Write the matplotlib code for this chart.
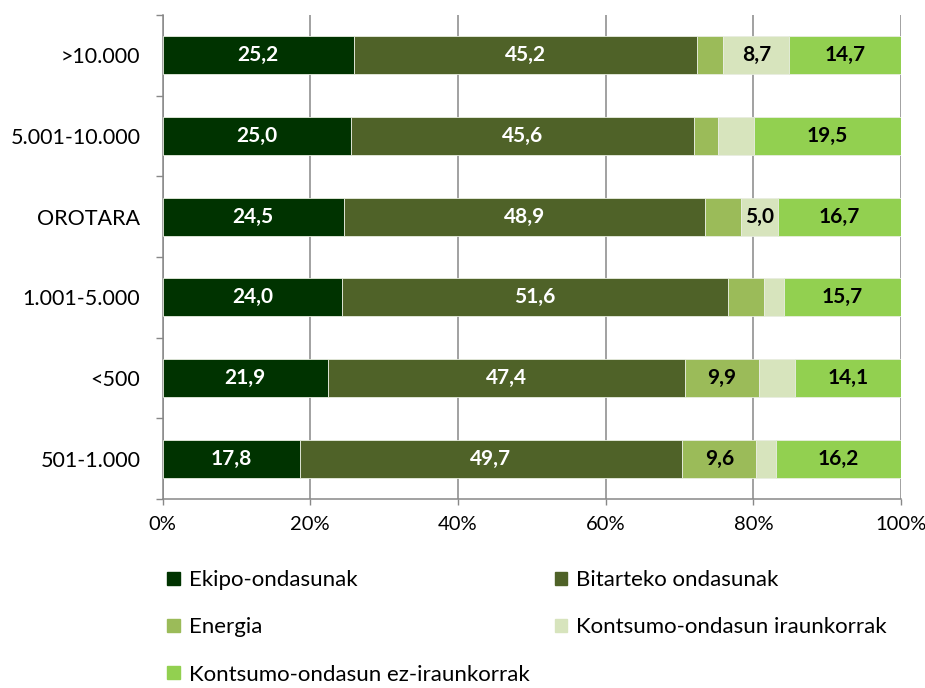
import numpy as np
import matplotlib.pyplot as plt
from matplotlib.patches import Patch

plt.rcParams['font.family'] = ['Lato', 'DejaVu Sans']

# categories, top to bottom
categories = [">10.000", "5.001-10.000", "OROTARA", "1.001-5.000", "<500", "501-1.000"]
series_names = ["Ekipo-ondasunak", "Bitarteko ondasunak", "Energia",
                "Kontsumo-ondasun iraunkorrak", "Kontsumo-ondasun ez-iraunkorrak"]

ekipo = [25.2, 25.0, 24.5, 24.0, 21.9, 17.8]
bitarteko = [45.2, 45.6, 48.9, 51.6, 47.4, 49.7]
energia = [3.5, 3.2, 4.8, 4.8, 9.9, 9.6]
iraunkor = [8.7, 4.8, 5.0, 2.6, 4.7, 2.6]
ez_iraunkor = [14.7, 19.5, 16.7, 15.7, 14.1, 16.2]

# which values carry a label in the original
show_label = [
    [True, True, True, True, True, True],
    [True, True, True, True, True, True],
    [False, False, False, False, True, True],
    [True, False, True, False, False, False],
    [True, True, True, True, True, True],
]

colors = ["#003300", "#4F6228", "#9BBB59", "#D7E4BD", "#92D050"]
text_colors = ["white", "white", "black", "black", "black"]

data = np.array([ekipo, bitarteko, energia, iraunkor, ez_iraunkor])
totals = data.sum(axis=0)
pct = data / totals * 100

fig = plt.figure(figsize=(9.25, 6.88), dpi=100)
ax = fig.add_axes([0.1757, 0.2747, 0.7984, 0.7035])

y = np.arange(len(categories))[::-1]
left = np.zeros(len(categories))
for i in range(len(series_names)):
    ax.barh(y, pct[i], left=left, height=0.47, color=colors[i],
            edgecolor="#E8EDE0", linewidth=0.6, label=series_names[i], zorder=3)
    for j in range(len(categories)):
        if show_label[i][j]:
            ax.text(left[j] + pct[i][j] / 2, y[j], f"{data[i][j]:.1f}".replace(".", ","),
                    ha="center", va="center", fontsize=15, fontweight="bold",
                    color=text_colors[i], zorder=4)
    left += pct[i]

ax.set_xlim(0, 100)
ax.set_ylim(-0.5, len(categories) - 0.5)
ax.set_xticks([0, 20, 40, 60, 80, 100])
ax.set_xticklabels(["0%", "20%", "40%", "60%", "80%", "100%"])
ax.set_yticks(y)
ax.set_yticklabels(categories)
ax.set_yticks(np.arange(-0.5, len(categories)), minor=True)
ax.tick_params(axis="y", which="major", length=0, pad=16, labelsize=15.5)
ax.tick_params(axis="y", which="minor", length=5, color="#888888", width=1)
ax.tick_params(axis="x", length=4, color="#888888", width=1, pad=8, labelsize=14.5)

ax.grid(axis="x", color="#888888", linewidth=1.1, zorder=0)
for s in ["top", "right"]:
    ax.spines[s].set_visible(False)
for s in ["left", "bottom"]:
    ax.spines[s].set_color("#888888")
    ax.spines[s].set_linewidth(1.1)

handles = [Patch(color=c) for c in colors]
order = [0, 2, 4, 1, 3]
fig.legend([handles[k] for k in order], [series_names[k] for k in order],
           ncol=2, loc="upper left", bbox_to_anchor=(0.181, 0.171),
           frameon=False, fontsize=16, handlelength=0.55, handleheight=0.55,
           handletextpad=0.4, labelspacing=1.22, columnspacing=1.15,
           borderaxespad=0, borderpad=0)

fig.savefig("out.png", dpi=100)
